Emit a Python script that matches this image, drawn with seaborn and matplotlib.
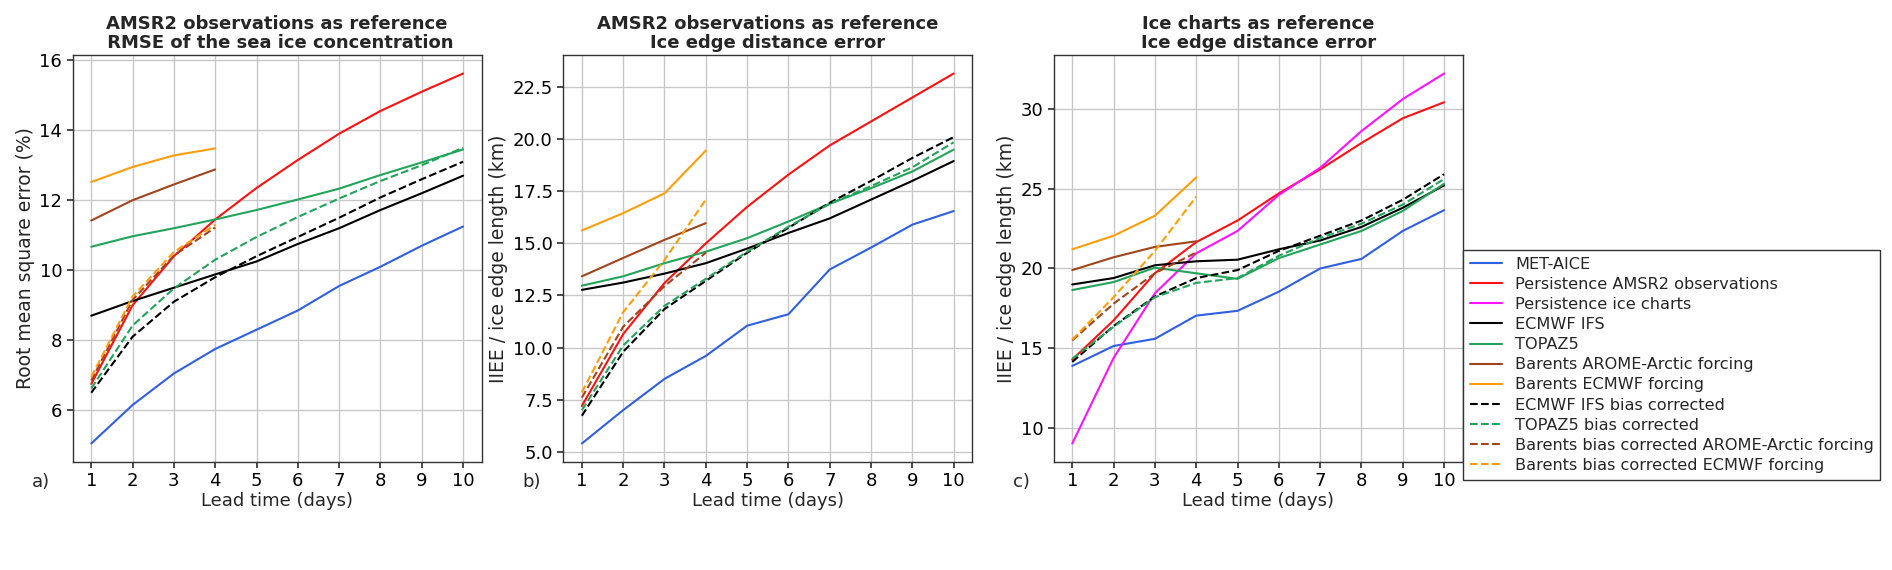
import seaborn as sns
import matplotlib
matplotlib.use('Agg')
import matplotlib.pyplot as plt

lead = [1, 2, 3, 4, 5, 6, 7, 8, 9, 10]
lead_short = [1, 2, 3, 4]

# a) AMSR2 reference, RMSE of SIC (%)
met_a = [5.05, 6.15, 7.05, 7.75, 8.3, 8.85, 9.55, 10.1, 10.7, 11.25]
pers_a = [6.75, 9.0, 10.4, 11.45, 12.35, 13.15, 13.9, 14.55, 15.1, 15.62]
ifs_a = [8.7, 9.12, 9.5, 9.88, 10.25, 10.75, 11.2, 11.72, 12.2, 12.7]
topaz_a = [10.67, 10.97, 11.2, 11.45, 11.72, 12.02, 12.33, 12.72, 13.08, 13.45]
arome_a = [11.42, 12.0, 12.45, 12.88]
becmwf_a = [12.52, 12.95, 13.28, 13.48]
ifs_bc_a = [6.5, 8.1, 9.1, 9.8, 10.4, 10.95, 11.5, 12.08, 12.6, 13.1]
topaz_bc_a = [6.62, 8.42, 9.48, 10.3, 10.95, 11.52, 12.05, 12.55, 13.0, 13.5]
arome_bc_a = [6.85, 9.15, 10.42, 11.22]
becmwf_bc_a = [6.95, 9.25, 10.52, 11.3]

# b) AMSR2 reference, IIEE / ice edge length (km)
met_b = [5.4, 7.0, 8.5, 9.6, 11.05, 11.6, 13.75, 14.8, 15.9, 16.55]
pers_b = [7.2, 10.65, 13.1, 15.0, 16.75, 18.3, 19.7, 20.85, 22.0, 23.15]
ifs_b = [12.77, 13.12, 13.55, 14.05, 14.75, 15.5, 16.2, 17.1, 18.0, 18.95]
topaz_b = [12.97, 13.42, 14.05, 14.6, 15.25, 16.05, 16.9, 17.65, 18.45, 19.5]
arome_b = [13.42, 14.3, 15.17, 15.97]
becmwf_b = [15.62, 16.45, 17.4, 19.45]
ifs_bc_b = [6.73, 9.8, 11.85, 13.2, 14.55, 15.75, 16.95, 18.0, 19.1, 20.1]
topaz_bc_b = [7.0, 10.1, 12.0, 13.3, 14.6, 15.8, 16.9, 17.75, 18.65, 19.85]
arome_bc_b = [7.6, 11.0, 12.95, 14.55]
becmwf_bc_b = [7.85, 11.7, 14.2, 17.1]

# c) ice charts reference, IIEE / ice edge length (km)
met_c = [13.9, 15.15, 15.6, 17.05, 17.35, 18.55, 20.0, 20.6, 22.35, 23.65]
pers_c = [14.3, 16.75, 19.7, 21.65, 23.0, 24.7, 26.2, 27.85, 29.4, 30.4]
persic_c = [9.05, 14.4, 18.45, 20.95, 22.35, 24.6, 26.3, 28.6, 30.6, 32.2]
ifs_c = [19.0, 19.4, 20.2, 20.45, 20.55, 21.2, 21.75, 22.6, 23.8, 25.2]
topaz_c = [18.65, 19.15, 20.05, 19.7, 19.35, 20.65, 21.5, 22.35, 23.6, 25.3]
arome_c = [19.9, 20.7, 21.35, 21.7]
becmwf_c = [21.2, 22.05, 23.3, 25.7]
ifs_bc_c = [14.15, 16.4, 18.25, 19.4, 19.9, 21.1, 22.05, 23.0, 24.3, 25.9]
topaz_bc_c = [14.35, 16.35, 18.2, 19.1, 19.4, 20.8, 21.9, 22.8, 24.0, 25.6]
arome_bc_c = [15.5, 17.8, 19.7, 21.0]
becmwf_bc_c = [15.55, 18.2, 21.1, 24.5]

names = ['MET-AICE', 'Persistence AMSR2 observations', 'Persistence ice charts',
         'ECMWF IFS', 'TOPAZ5', 'Barents AROME-Arctic forcing', 'Barents ECMWF forcing',
         'ECMWF IFS bias corrected', 'TOPAZ5 bias corrected',
         'Barents bias corrected AROME-Arctic forcing', 'Barents bias corrected ECMWF forcing']
colors = ['#2f5fe3', '#ff1010', '#ff10ff', 'black', '#22a45a', '#a0451c', '#ff9d0a',
          'black', '#22a45a', '#a0451c', '#ff9d0a']
styles = ['-', '-', '-', '-', '-', '-', '-', '--', '--', '--', '--']

panels = [
    {'series': [met_a, pers_a, None, ifs_a, topaz_a, arome_a, becmwf_a,
                ifs_bc_a, topaz_bc_a, arome_bc_a, becmwf_bc_a],
     'title': 'AMSR2 observations as reference\n RMSE of the sea ice concentration',
     'ylabel': 'Root mean square error (%)', 'tag': 'a)'},
    {'series': [met_b, pers_b, None, ifs_b, topaz_b, arome_b, becmwf_b,
                ifs_bc_b, topaz_bc_b, arome_bc_b, becmwf_bc_b],
     'title': 'AMSR2 observations as reference\nIce edge distance error',
     'ylabel': 'IIEE / ice edge length (km)', 'tag': 'b)'},
    {'series': [met_c, pers_c, persic_c, ifs_c, topaz_c, arome_c, becmwf_c,
                ifs_bc_c, topaz_bc_c, arome_bc_c, becmwf_bc_c],
     'title': 'Ice charts as reference\nIce edge distance error',
     'ylabel': 'IIEE / ice edge length (km)', 'tag': 'c)'},
]

sns.set_theme(style='ticks', rc={'axes.grid': True, 'grid.color': '#c8c8c8',
                                 'grid.linewidth': 1.0, 'axes.edgecolor': '#333333',
                                 'axes.linewidth': 1.0, 'xtick.color': '#333333',
                                 'ytick.color': '#333333'})
plt.rcParams['font.family'] = ['DejaVu Sans']
plt.rcParams['font.size'] = 12

fig = plt.figure(figsize=(18.92, 5.7), dpi=100)
lefts = [0.0384, 0.2977, 0.5569]

for i, p in enumerate(panels):
    ax = fig.add_axes([lefts[i], 0.1895, 0.2162, 0.714])
    for name, col, ls, vals in zip(names, colors, styles, p['series']):
        if vals is None:
            continue
        x = lead if len(vals) == 10 else lead_short
        sns.lineplot(x=x, y=vals, ax=ax, color=col, linestyle=ls, linewidth=1.5, label=name)
    ax.set_xticks(lead)
    ax.tick_params(labelsize=13, length=4, color='#333333', labelcolor='black')
    ax.set_title(p['title'], fontsize=13, fontweight='bold', pad=5, linespacing=1.05)
    ax.set_xlabel('Lead time (days)', fontsize=13, labelpad=1)
    ax.set_ylabel(p['ylabel'], fontsize=13.5, labelpad=3)
    ax.text(-0.078, -0.028, p['tag'], transform=ax.transAxes, fontsize=13,
            ha='center', va='top')
    if i < 2:
        ax.get_legend().remove()
    else:
        handles, labels = ax.get_legend_handles_labels()
        ax.get_legend().remove()

fig.legend(handles, labels, loc='center left', bbox_to_anchor=(0.7735, 0.36),
           borderaxespad=0, fontsize=11.6, frameon=True, fancybox=False,
           edgecolor='#333333', framealpha=1, handlelength=2.0, labelspacing=0.32,
           borderpad=0.4)

fig.savefig('out.png', dpi=100)
